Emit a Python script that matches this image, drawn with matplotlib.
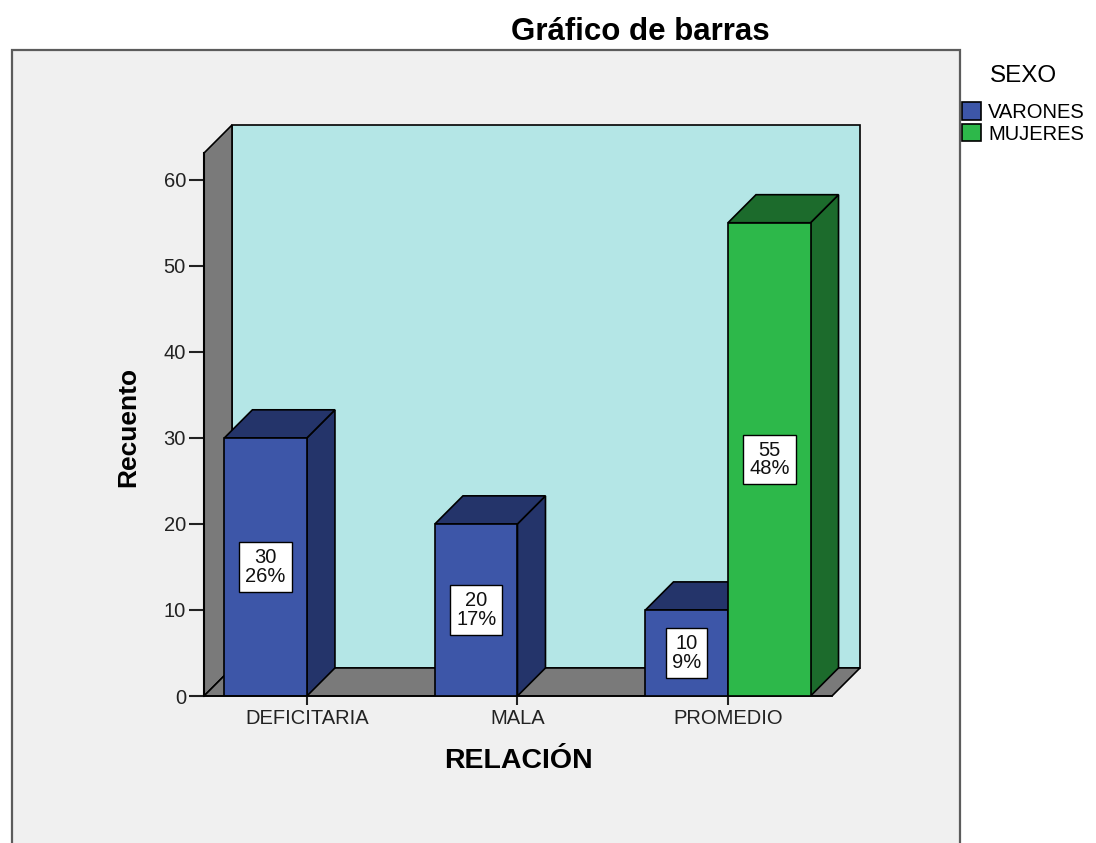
import matplotlib
matplotlib.use('Agg')
import matplotlib.pyplot as plt
from matplotlib.patches import Polygon, Rectangle

# ---------------- data ----------------
categories = ['DEFICITARIA', 'MALA', 'PROMEDIO']
series_names = ['VARONES', 'MUJERES']
varones = [30, 20, 10]
mujeres = [0, 0, 55]
varones_pct = [26, 17, 9]
mujeres_pct = [0, 0, 48]
yticks = [0, 10, 20, 30, 40, 50, 60]

# ---------------- style ----------------
plt.rcParams['font.family'] = ['Liberation Sans', 'DejaVu Sans']
C_WALL_BACK = '#b4e6e6'
C_WALL = '#7a7a7a'
C_BLUE = '#3d56a8'
C_BLUE_D = '#24346a'
C_GREEN = '#2db84a'
C_GREEN_D = '#1c6b2c'
EDGE_LW = 1.2

W, H = 1096, 843
fig = plt.figure(figsize=(W / 100, H / 100), dpi=100)
fig.patch.set_facecolor('white')

# outer grey panel
panel = Rectangle((12 / W, -0.05), (960 - 12) / W, (1 - 50 / H) + 0.05,
                  transform=fig.transFigure, facecolor='#f0f0f0',
                  edgecolor='#5c5c5c', linewidth=1.6, zorder=-5)
fig.add_artist(panel)

# plot axes
px_left, px_right, px_bottom, px_top = 204, 860, 696, 125
ax = fig.add_axes([px_left / W, 1 - px_bottom / H,
                   (px_right - px_left) / W, (px_bottom - px_top) / H])
ax.patch.set_visible(False)

BW = 0.392     # bar width (category units)
DX = 0.133     # 3D depth offset in x
DY = 3.26      # 3D depth offset in y
XMIN = -0.489
XMAX = 2.494
YTOP = 63.1
ax.set_xlim(XMIN, XMAX + DX)
ax.set_ylim(0, YTOP + DY)

# walls
back = Rectangle((XMIN + DX, DY), XMAX - XMIN, YTOP, facecolor=C_WALL_BACK,
                 edgecolor='black', linewidth=EDGE_LW, clip_on=False, zorder=0.5)
ax.add_patch(back)
left = Polygon([(XMIN, 0), (XMIN, YTOP), (XMIN + DX, YTOP + DY), (XMIN + DX, DY)],
               closed=True, facecolor=C_WALL, edgecolor='black',
               linewidth=EDGE_LW, clip_on=False, zorder=0.6)
ax.add_patch(left)
floor = Polygon([(XMIN, 0), (XMAX, 0), (XMAX + DX, DY), (XMIN + DX, DY)],
                closed=True, facecolor=C_WALL, edgecolor='black',
                linewidth=EDGE_LW, clip_on=False, zorder=0.7)
ax.add_patch(floor)

# bars (left to right so the 3D faces overlap correctly)
bars = []
for i in range(len(categories)):
    bars.append((i - BW, varones[i], varones_pct[i], C_BLUE, C_BLUE_D))
    bars.append((i, mujeres[i], mujeres_pct[i], C_GREEN, C_GREEN_D))
bars = [b for b in bars if b[1] > 0]
bars.sort(key=lambda b: b[0])

for k, (x0, v, pct, face, dark) in enumerate(bars):
    z = 2 + k * 0.5
    x1 = x0 + BW
    side = Polygon([(x1, 0), (x1 + DX, DY), (x1 + DX, v + DY), (x1, v)], closed=True,
                   facecolor=dark, edgecolor='black', linewidth=EDGE_LW, zorder=z)
    top = Polygon([(x0, v), (x1, v), (x1 + DX, v + DY), (x0 + DX, v + DY)], closed=True,
                  facecolor=dark, edgecolor='black', linewidth=EDGE_LW, zorder=z + 0.1)
    ax.add_patch(side)
    ax.add_patch(top)
    ax.bar([x0], [v], width=BW, align='edge', color=face, edgecolor='black',
           linewidth=EDGE_LW, zorder=z + 0.2)
    ax.text(x0 + BW / 2, v / 2, f'{v}\n{pct}%', ha='center', va='center',
            fontsize=14.5, linespacing=0.95, zorder=20, color='#111111',
            bbox=dict(boxstyle='square,pad=0.3', facecolor='white',
                      edgecolor='black', linewidth=1.0))

# axes decoration
for s in ['top', 'right']:
    ax.spines[s].set_visible(False)
ax.spines['left'].set_bounds(0, YTOP)
ax.spines['bottom'].set_bounds(XMIN, XMAX)
ax.spines['left'].set_linewidth(1.5)
ax.spines['bottom'].set_linewidth(1.2)
ax.set_xticks(range(len(categories)))
ax.set_xticklabels(categories)
ax.set_yticks(yticks)
ax.tick_params(axis='x', length=6.5, width=1.5, pad=3.0, labelsize=14.5, colors='#222222')
ax.tick_params(axis='y', length=11, width=1.5, pad=2, labelsize=14.5, colors='#222222')

ax.set_xlabel('RELACIÓN', fontsize=20.5, fontweight='bold', va='center')
ax.xaxis.set_label_coords((518 - px_left) / (px_right - px_left),
                          (px_bottom - 761) / (px_bottom - px_top))
ax.set_ylabel('Recuento', fontsize=19, fontweight='bold', va='center')
ax.yaxis.set_label_coords((128 - px_left) / (px_right - px_left),
                          (px_bottom - 427) / (px_bottom - px_top))

fig.text(640 / W, 1 - 40 / H, 'Gráfico de barras', ha='center', va='baseline',
         fontsize=22.5, fontweight='bold')

# legend
handles = [Rectangle((0, 0), 1, 1, facecolor=C_BLUE, edgecolor='black', linewidth=1.2),
           Rectangle((0, 0), 1, 1, facecolor=C_GREEN, edgecolor='black', linewidth=1.2)]
leg = fig.legend(handles, series_names, title='SEXO', loc='upper left',
                 bbox_to_anchor=(962 / W, 1 - 65 / H), frameon=False, fontsize=14.5,
                 title_fontsize=17.5, handlelength=0.95, handleheight=0.95,
                 handletextpad=0.35, labelspacing=0.1, borderpad=0, borderaxespad=0)
leg._legend_box.sep = 11

fig.savefig('out.png', dpi=100)
